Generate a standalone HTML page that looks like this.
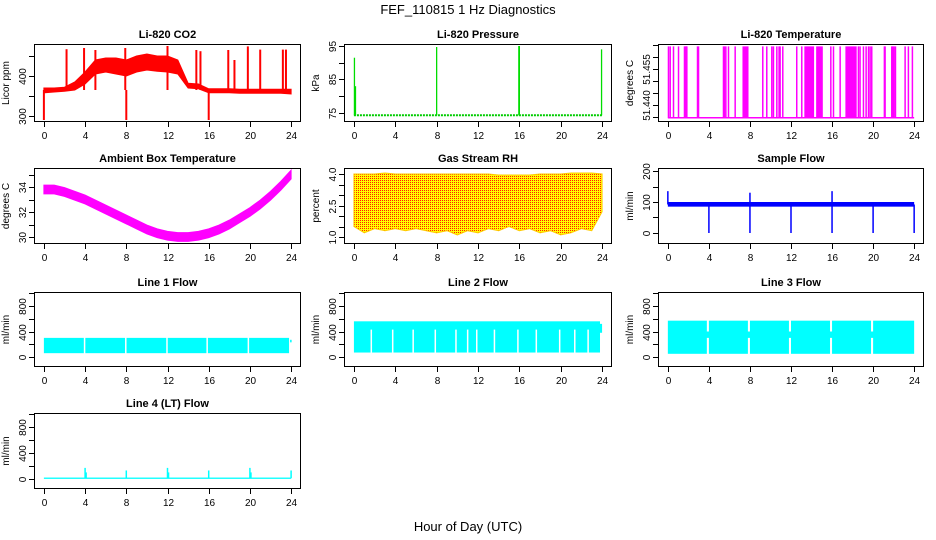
<!DOCTYPE html>
<html><head><meta charset="utf-8">
<style>
html,body{margin:0;padding:0;background:#fff;}
svg{display:block;font-family:"Liberation Sans",Arial,sans-serif;}
</style></head>
<body>
<svg id="chart" width="936" height="540" viewBox="0 0 936 540" xmlns="http://www.w3.org/2000/svg">
<defs>
<pattern id="rhpat" width="2" height="2" patternUnits="userSpaceOnUse">
<rect width="2" height="2" fill="#ffff00"/><rect width="1" height="1" fill="#ff2000"/>
</pattern>
</defs>
<text x="468" y="14" font-size="13" text-anchor="middle">FEF_110815  1 Hz Diagnostics</text>
<text x="468" y="531" font-size="13" text-anchor="middle">Hour of Day (UTC)</text>
</svg>
<script>
// ---------- data ----------
const hours = [0,1,2,3,4,5,6,7,8,9,10,11,12,13,14,15,16,17,18,19,20,21,22,23,24];
const xTicks = [0,4,8,12,16,20,24];
// CO2
const co2Lo = [358,360,362,365,380,405,410,405,400,410,415,412,410,405,370,368,358,358,358,357,357,357,357,357,355];
const co2Hi = [370,370,372,385,410,440,445,445,440,450,455,450,450,440,382,380,368,368,368,367,367,367,367,367,367];
const co2SpikeH = [0,2.2,3.9,5.0,7.9,8.0,12,14.8,15.2,16.0,17.9,18.5,19.8,21,23.2,23.5];
const co2SpikeV = [290,467,470,465,470,290,475,465,462,290,465,440,474,466,466,466];
const co2Base = 365;
// Pressure
const presBase = 74.3;
const presSpikeH = [0.05,0.15,8,15.95,16,23.95];
const presSpikeV = [91.5,83,94.7,95,95,94];
// Li-820 temp
const tempLow = 51.4345, tempHigh = 51.4645;
const tempSpikeH = [0.06,0.23,0.55,1.04,1.62,1.72,1.79,1.85,2.89,2.99,5.42,5.52,5.65,5.91,6.56,9.25,9.64,10.13,10.29,10.62,10.84,10.94,11.2,12.56,13.05,15.88,16.14,16.79,18.57,18.73,19.06,19.32,19.55,19.71,19.87,21.1,21.17,21.82,21.92,22.05,22.18,23.12,23.44,23.83];
const tempDenseStart = [7.27,13.3,14.45,17.3];
const tempDenseEnd = [7.86,14.25,15.1,18.4];
// Ambient box temp
const ambMid = [33.8,33.8,33.6,33.3,33.0,32.6,32.2,31.8,31.4,31.0,30.6,30.3,30.1,30.0,30.0,30.1,30.3,30.6,31.0,31.5,32.0,32.6,33.3,34.1,35.0];
const ambHalf = 0.35;
// RH
const rhHi = [4.0,4.0,4.0,4.05,4.0,4.0,4.0,4.0,4.0,4.0,4.0,4.0,4.0,4.0,3.95,3.95,3.95,3.95,4.0,4.0,4.0,4.05,4.05,4.05,4.0];
const rhLo = [1.5,1.2,1.4,1.3,1.4,1.3,1.4,1.3,1.2,1.3,1.1,1.3,1.2,1.4,1.3,1.5,1.3,1.4,1.2,1.3,1.1,1.2,1.4,1.3,2.2];
// Sample flow
const sfLo = 85, sfHi = 100;
const sfSpikeH = [4,8,12,16,20,24,0,8,16];
const sfSpikeV = [0,0,0,0,0,0,135,130,135];
// Line flows
const l1Lo = 60, l1Hi = 300;
const l1Gaps = [3.95,7.95,11.95,15.85,19.85];
const l2Lo = 70, l2Hi = 560, l2GapTop = 430;
const l2Gaps = [1.68,3.75,5.73,7.87,9.87,11.0,11.88,13.59,15.86,17.64,19.9,21.36,22.65];
const l3Lo = 50, l3Hi = 570, l3MidLo = 300, l3MidHi = 400;
const l3Gaps = [3.8,7.8,11.8,15.8,19.8];
const l4Lo = 0, l4Hi = 20;
const l4SpikeH = [4,4.1,8,12,12.1,16,20,20.1,24];
const l4SpikeV = [170,100,130,170,100,130,170,100,130];

// ---------- helpers ----------
const NS = 'http://www.w3.org/2000/svg';
const svg = document.getElementById('chart');
const colL = [34,344,658], colR = [301,612,924];
const rowT = [44,168,292,413], rowB = [122,244,367,489];
function mk(tag, attrs, parent){
  const e = document.createElementNS(NS, tag);
  for (const k in attrs) e.setAttribute(k, attrs[k]);
  (parent||svg).appendChild(e);
  return e;
}
let clipId = 0;
function panel(c, r, title, ylab, ymin, ymax, yticks, ylabels, name){
  const L = colL[c], R = colR[c], T = rowT[r], B = rowB[r];
  const sx = h => L + (h + 0.96) / 25.92 * (R - L);
  const sy = v => B - (v - ymin) / (ymax - ymin) * (B - T);
  const g = mk('g', {});
  
  
  const t = mk('text', {x:(L+R)/2, y:T-6, 'font-size':11, 'font-weight':'bold', 'text-anchor':'middle'}, g);
  
  
  t.textContent = title;
  const yl = mk('text', {x:0, y:0, 'font-size':10, 'text-anchor':'middle', transform:`translate(${L-25},${(T+B)/2}) rotate(-90)`}, g);
  
  
  yl.textContent = ylab;
  const cp = mk('clipPath', {id:'cp'+(++clipId)}, g);
  mk('rect', {x:L, y:T, width:R-L, height:B-T}, cp);
  const data = mk('g', {'clip-path':`url(#cp${clipId})`}, g);
  
  
  const box = mk('rect', {x:L+0.5, y:T+0.5, width:R-L-1, height:B-T-1, fill:'none', stroke:'#000', 'stroke-width':1}, g);
  
  
  xTicks.forEach(h => {
    const x = Math.round(sx(h)) + 0.5;
    mk('line', {x1:x, x2:x, y1:B, y2:B+5, stroke:'#000'}, g);
    const tl = mk('text', {x:x, y:B+17, 'font-size':10, 'text-anchor':'middle'}, g);
    
    
    tl.textContent = h;
  });
  yticks.forEach((v, i) => {
    const y = Math.round(sy(v)) + 0.5;
    mk('line', {x1:L-5, x2:L, y1:y, y2:y, stroke:'#000'}, g);
    if (ylabels[i] !== '') {
      const tl = mk('text', {x:0, y:0, 'font-size':10, 'text-anchor':'middle', transform:`translate(${L-8},${y}) rotate(-90)`}, g);
      
      
      tl.textContent = ylabels[i];
    }
  });
  return {sx, sy, g:data, L, R, T, B};
}
function band(p, lo, hi, fill){
  let pts = hours.map((h,i) => `${p.sx(h)},${p.sy(hi[i])}`);
  pts = pts.concat(hours.slice().reverse().map((h,j) => `${p.sx(h)},${p.sy(lo[hours.length-1-j])}`));
  return mk('polygon', {points:pts.join(' '), fill:fill, stroke:fill, 'stroke-width':1}, p.g);
}
function vline(p, h, v0, v1, col, w){
  return mk('line', {x1:p.sx(h), x2:p.sx(h), y1:p.sy(v0), y2:p.sy(v1), stroke:col, 'stroke-width':w||1.5}, p.g);
}
function hrect(p, h0, h1, v0, v1, col){
  const x0 = p.sx(h0), x1 = p.sx(h1), y0 = p.sy(v1), y1 = p.sy(v0);
  return mk('rect', {x:x0, y:y0, width:Math.max(1,x1-x0), height:y1-y0, fill:col}, p.g);
}
const flowTicks = [0,200,400,600,800,1000], flowLabels = ['0','','400','','800',''];

// ---------- CO2 ----------
{
  const p = panel(0,0,'Li-820 CO2','Licor ppm',285,480,[300,350,400,450],['300','','400',''],'co2');
  const b = band(p, co2Lo, co2Hi, '#ff0000');
  
  co2SpikeH.forEach((h,i) => {
    const l = vline(p, h, co2Base, co2SpikeV[i], '#ff0000', 2);
    
  });
}
// ---------- Pressure ----------
{
  const p = panel(1,0,'Li-820 Pressure','kPa',72.3,95.6,[75,80,85,90,95],['75','','85','','95'],'pressure');
  const bl = mk('line', {x1:p.sx(0), x2:p.sx(24), y1:p.sy(presBase), y2:p.sy(presBase), stroke:'#00cc00', 'stroke-width':2, 'stroke-dasharray':'2 1'}, p.g);
  
  presSpikeH.forEach((h,i) => {
    const l = vline(p, h, presBase, presSpikeV[i], '#00dd00', 1.3);
    
  });
}
// ---------- Li-820 Temperature ----------
{
  const p = panel(2,0,'Li-820 Temperature','degrees C',51.4327,51.4655,[51.465,51.460,51.455,51.450,51.445,51.440,51.435],['','','51.455','','','51.440',''],'li820-temp');
  const bl = mk('line', {x1:p.sx(0), x2:p.sx(24), y1:p.sy(tempLow), y2:p.sy(tempLow), stroke:'#ff00ff', 'stroke-width':1.5}, p.g);
  
  tempSpikeH.forEach(h => {
    const l = vline(p, h, tempLow, tempHigh, '#ff00ff', 1.5);
    
  });
  tempDenseStart.forEach((h,i) => {
    const r = hrect(p, h, tempDenseEnd[i], tempLow, tempHigh, '#ff00ff');
    
  });
}
// ---------- Ambient ----------
{
  const p = panel(0,1,'Ambient Box Temperature','degrees C',29.44,35.52,[30,31,32,33,34,35],['30','','32','','34',''],'ambient');
  const b = band(p, ambMid.map(v => v - ambHalf), ambMid.map(v => v + ambHalf), '#ff00ff');
  
}
// ---------- RH ----------
{
  const p = panel(1,1,'Gas Stream RH','percent',0.667,4.286,[1,1.5,2,2.5,3,3.5,4],['1.0','','','2.5','','','4.0'],'rh');
  const b = band(p, rhLo, rhHi, '#ffaa00');
  b.setAttribute('fill', 'url(#rhpat)');
  b.setAttribute('stroke', '#ffcc00');
  
}
// ---------- Sample flow ----------
{
  const p = panel(2,1,'Sample Flow','ml/min',-35.5,209.7,[0,50,100,150,200],['0','','100','','200'],'sample-flow');
  const r = hrect(p, 0, 24, sfLo, sfHi, '#0000ff');
  
  sfSpikeH.forEach((h,i) => {
    const l = vline(p, h, 92, sfSpikeV[i], '#0000ff', 1.5);
    
  });
}
// ---------- Line 1 ----------
{
  const p = panel(0,2,'Line 1 Flow','ml/min',-157,1020,flowTicks,flowLabels,'line1');
  const r = hrect(p, 0, 23.8, l1Lo, l1Hi, '#00ffff');
  
  const r2 = hrect(p, 23.9, 24.05, 230, 270, '#00ffff');
  
  l1Gaps.forEach(h => {
    const l = vline(p, h, l1Lo-10, l1Hi+10, '#ffffff', 1.5);
    
  });
}
// ---------- Line 2 ----------
{
  const p = panel(1,2,'Line 2 Flow','ml/min',-157,1020,flowTicks,flowLabels,'line2');
  const r = hrect(p, 0, 23.8, l2Lo, l2Hi, '#00ffff');
  
  const r2 = hrect(p, 23.8, 24, 380, 520, '#00ffff');
  
  l2Gaps.forEach(h => {
    const l = vline(p, h, l2Lo-5, l2GapTop, '#ffffff', 1.5);
    
  });
}
// ---------- Line 3 ----------
{
  const p = panel(2,2,'Line 3 Flow','ml/min',-157,1020,flowTicks,flowLabels,'line3');
  const r = hrect(p, 0, 24, l3Lo, l3Hi, '#00ffff');
  
  l3Gaps.forEach(h => {
    const a = hrect(p, h, h+0.2, l3Lo-10, l3MidLo, '#ffffff');
    
    const b = hrect(p, h, h+0.2, l3MidHi, l3Hi+10, '#ffffff');
    
  });
}
// ---------- Line 4 ----------
{
  const p = panel(0,3,'Line 4 (LT) Flow','ml/min',-157,1020,flowTicks,flowLabels,'line4');
  const r = hrect(p, 0, 24, l4Lo, l4Hi, '#00ffff');
  
  l4SpikeH.forEach((h,i) => {
    const l = vline(p, h, 10, l4SpikeV[i], '#00ffff', 1.5);
    
  });
}
</script>
</body></html>
